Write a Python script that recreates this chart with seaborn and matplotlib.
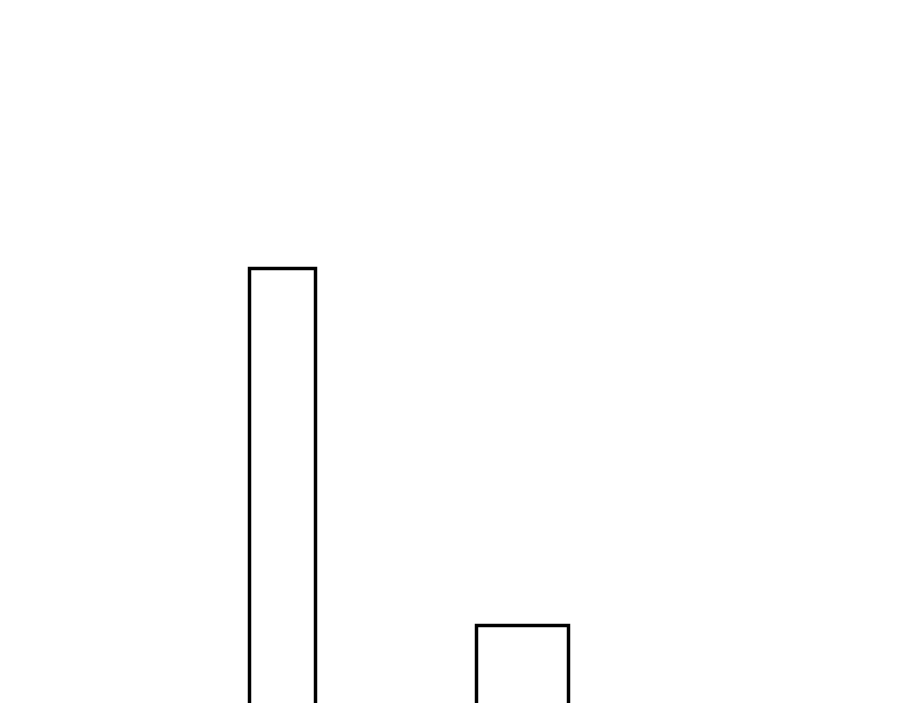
import matplotlib
matplotlib.use("Agg")
import matplotlib.pyplot as plt
import seaborn as sns
import pandas as pd

categories = ["A", "B"]
values = [100, 28.6]

df = pd.DataFrame({"category": categories, "value": values})

fig = plt.figure(figsize=(9, 7.03), dpi=100)
ax = fig.add_axes([0, 0, 1, 1])
sns.barplot(data=df, x="category", y="value", ax=ax, color="white",
            edgecolor="black", linewidth=2.5, errorbar=None, width=0.3)

# per-bar widths as in the reference
bar_widths = [0.274, 0.385]
for patch, w in zip(ax.patches, bar_widths):
    c = patch.get_x() + patch.get_width() / 2
    patch.set_x(c - w / 2)
    patch.set_width(w)
    patch.set_joinstyle("miter")

ax.set_xlim(-1.175, 2.575)
ax.set_ylim(13.0, 153.6)
ax.axis("off")
fig.patch.set_facecolor("white")
fig.savefig("out.png", dpi=100, facecolor="white")
